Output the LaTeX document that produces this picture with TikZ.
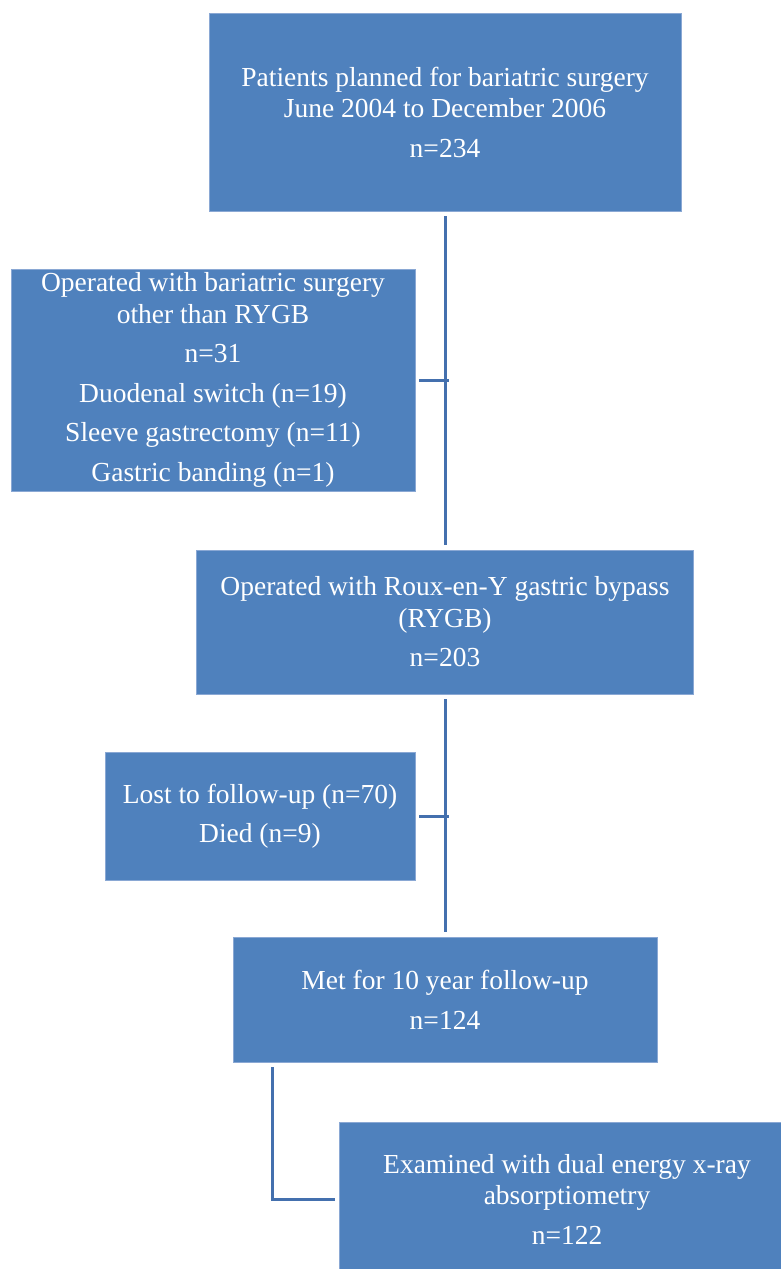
\documentclass[tikz,border=0pt]{standalone}
\usepackage{fontspec}
\setmainfont{Liberation Serif}
\definecolor{boxfill}{HTML}{4F81BD}
\definecolor{boxedge}{HTML}{8AA8D4}
\definecolor{linkcol}{HTML}{4470AE}
\begin{document}
\begin{tikzpicture}[x=1pt,y=-1pt,
  flowbox/.style={rectangle,fill=boxfill,draw=boxedge,line width=0.8pt,
    text=white,align=center,inner sep=0pt,
    font=\fontsize{27.5}{31.5}\selectfont},
  link/.style={draw=linkcol,line width=3pt}]
\useasboundingbox (0,0) rectangle (781,1269);
\node[flowbox,minimum width=472,minimum height=198] (b1) at (445,112)
  {Patients planned for bariatric surgery\\June 2004 to December 2006\\[8pt]n=234};
\node[flowbox,minimum width=404,minimum height=222] (b2) at (213,380)
  {Operated with bariatric surgery\\other than RYGB\\[8pt]n=31\\[8pt]Duodenal switch (n=19)\\[8pt]Sleeve gastrectomy (n=11)\\[8pt]Gastric banding (n=1)};
\node[flowbox,minimum width=497,minimum height=144] (b3) at (445,622)
  {Operated with Roux-en-Y gastric bypass\\(RYGB)\\[8pt]n=203};
\node[flowbox,minimum width=310,minimum height=128] (b4) at (260,816)
  {Lost to follow-up (n=70)\\[8pt]Died (n=9)};
\node[flowbox,minimum width=424,minimum height=125] (b5) at (445,1000)
  {Met for 10 year follow-up\\[8pt]n=124};
\node[flowbox,minimum width=456,minimum height=154] (b6) at (567,1199)
  {Examined with dual energy x-ray\\absorptiometry\\[8pt]n=122};
\coordinate (t1) at ([yshift=-5pt]b1.south);
\coordinate (t2) at ([yshift=5pt]b3.north);
\coordinate (t3) at ([yshift=-5pt]b3.south);
\coordinate (t4) at ([yshift=5pt]b5.north);
\coordinate (e1) at (272,1067);
\draw[link] (t1) -- (t2);
\draw[link] ([xshift=4pt]b2.east) -- ([xshift=4pt]b2.east -| t1);
\draw[link] (t3) -- (t4);
\draw[link] ([xshift=4pt]b4.east) -- ([xshift=4pt]b4.east -| t3);
\draw[link] (e1) |- ([xshift=-4pt]b6.west);
\end{tikzpicture}
\end{document}
